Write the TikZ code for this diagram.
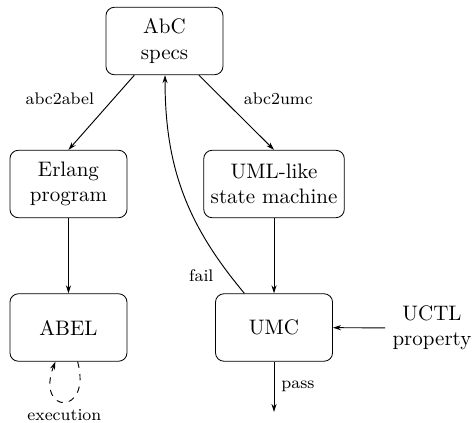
\documentclass[tikz,border=0pt]{standalone}
\usepackage{tikz}
\usetikzlibrary{arrows.meta,positioning}

\begin{document}
\begin{tikzpicture}[
  box/.style={draw,rounded corners=4pt,align=center,minimum width=1.96cm,minimum height=1.13cm},
  plain/.style={align=center},
  flow/.style={-{Stealth[length=1.35mm,width=0.85mm]},line width=.45pt},
  edgelabel/.style={font=\footnotesize}
]
\useasboundingbox (0,0) rectangle (7.923,-7.069);

\node[box] (abc) at (2.755,-0.687) {AbC\\specs};
\node[box] (erlang) at (1.147,-3.082) {Erlang\\program};
\node[box] (uml) at (4.590,-3.082) {UML-like\\state machine};
\node[box] (abel) at (1.147,-5.486) {ABEL};
\node[box] (umc) at (4.590,-5.486) {UMC};
\node[plain] (uctl) at (7.236,-5.494) {UCTL\\property};
\coordinate (result) at (4.590,-6.901);

\draw[flow] (abc) -- node[edgelabel,above left] {abc2abel} (erlang.north);
\draw[flow] (abc) -- node[edgelabel,above right] {abc2umc} (uml.north);
\draw[flow] (erlang) -- (abel);
\draw[flow] (uml) -- (umc);
\draw[flow] (uctl) -- (umc);
\draw[flow] (umc) to[bend left=20] node[edgelabel,left,pos=.1,xshift=-1.2mm,yshift=-.4mm] {fail} (abc);
\draw[flow] (umc) -- node[edgelabel,right] {pass} (result);
\draw[flow,dashed] (abel.-75) to[out=-75,in=-111,distance=0.95cm] node[edgelabel,below] {execution} (abel.-111);
\end{tikzpicture}
\end{document}
